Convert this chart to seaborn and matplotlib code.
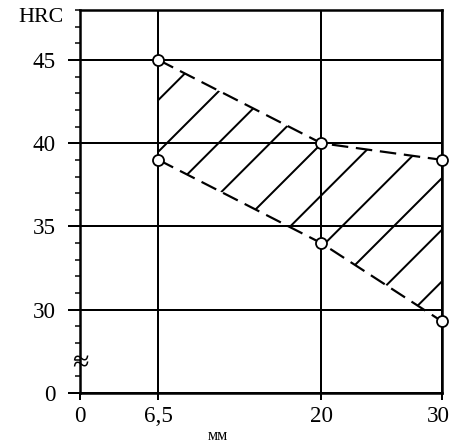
import matplotlib
matplotlib.use("Agg")
import matplotlib.pyplot as plt
import matplotlib.transforms as mtransforms
import seaborn as sns
from matplotlib.ticker import MultipleLocator

# data
x_mm = [6.5, 20, 30]
hrc_upper = [45, 40, 39]
hrc_lower = [39, 34, 29.3]

x_ticks = [0, 6.5, 20, 30]
x_labels = ["0", "6,5", "20", "30"]
# the y axis is broken: the tick drawn at 25 stands for 0
y_ticks = [25, 30, 35, 40, 45]
y_labels = ["0", "30", "35", "40", "45"]

# dpi picked so the "/" hatch spacing matches the scan
DPI = 155


def pt(px):
    # pixels -> points at the chosen dpi
    return px * 72 / DPI


sns.set_theme(style="ticks")
plt.rcParams["font.family"] = ["Liberation Serif", "DejaVu Serif"]
plt.rcParams["hatch.linewidth"] = pt(2)

fig = plt.figure(figsize=(450 / DPI, 446 / DPI), dpi=DPI)
ax = fig.add_axes([80 / 450, 53 / 446, 362 / 450, 383 / 446])

ax.fill_between(x_mm, hrc_lower, hrc_upper, facecolor="none",
                edgecolor="black", linewidth=0, hatch="/", zorder=2)

for vals in (hrc_upper, hrc_lower):
    sns.lineplot(x=x_mm, y=vals, ax=ax, color="black", linewidth=pt(2.2),
                 linestyle=(0, (7.5, 3.5)), marker="o", markersize=pt(11),
                 markerfacecolor="white", markeredgecolor="black",
                 markeredgewidth=pt(1.8), zorder=4, clip_on=False)

ax.set_xlim(0, 30)
ax.set_ylim(25, 48)
ax.set_xticks(x_ticks, x_labels)
ax.set_yticks(y_ticks, y_labels)
ax.yaxis.set_minor_locator(MultipleLocator(1))

ax.grid(True, color="black", linewidth=pt(2), zorder=1)
ax.set_axisbelow(True)
for s in ax.spines.values():
    s.set_linewidth(pt(2.5))
    s.set_color("black")

ax.tick_params(axis="y", which="major", direction="out", length=pt(12),
               width=pt(2), pad=pt(12), labelsize=pt(23), colors="black")
ax.tick_params(axis="y", which="minor", direction="out", length=pt(5),
               width=pt(1.5), colors="black")
ax.tick_params(axis="x", which="major", direction="out", length=pt(7),
               width=pt(2), pad=pt(6), labelsize=pt(23), colors="black")
ax.set_xlabel("")
ax.set_ylabel("")

# nudge the last x label so it stays inside the picture
last = ax.get_xticklabels()[-1]
last.set_transform(last.get_transform() + mtransforms.ScaledTranslation(
    -pt(4) / 72, 0, fig.dpi_scale_trans))

# axis break mark
ax.text(0, 26.7, "≈", fontsize=pt(30), ha="center", va="center",
        clip_on=False, zorder=5, color="black", rotation=0)

fig.text(41 / 450, 1 - 18 / 446, "HRC", fontsize=pt(22), ha="center",
         va="center", color="black")
fig.text(218 / 450, 1 - 436 / 446, "мм", fontsize=pt(16), ha="center",
         va="center", color="black")

fig.savefig("out.png", dpi=DPI)
